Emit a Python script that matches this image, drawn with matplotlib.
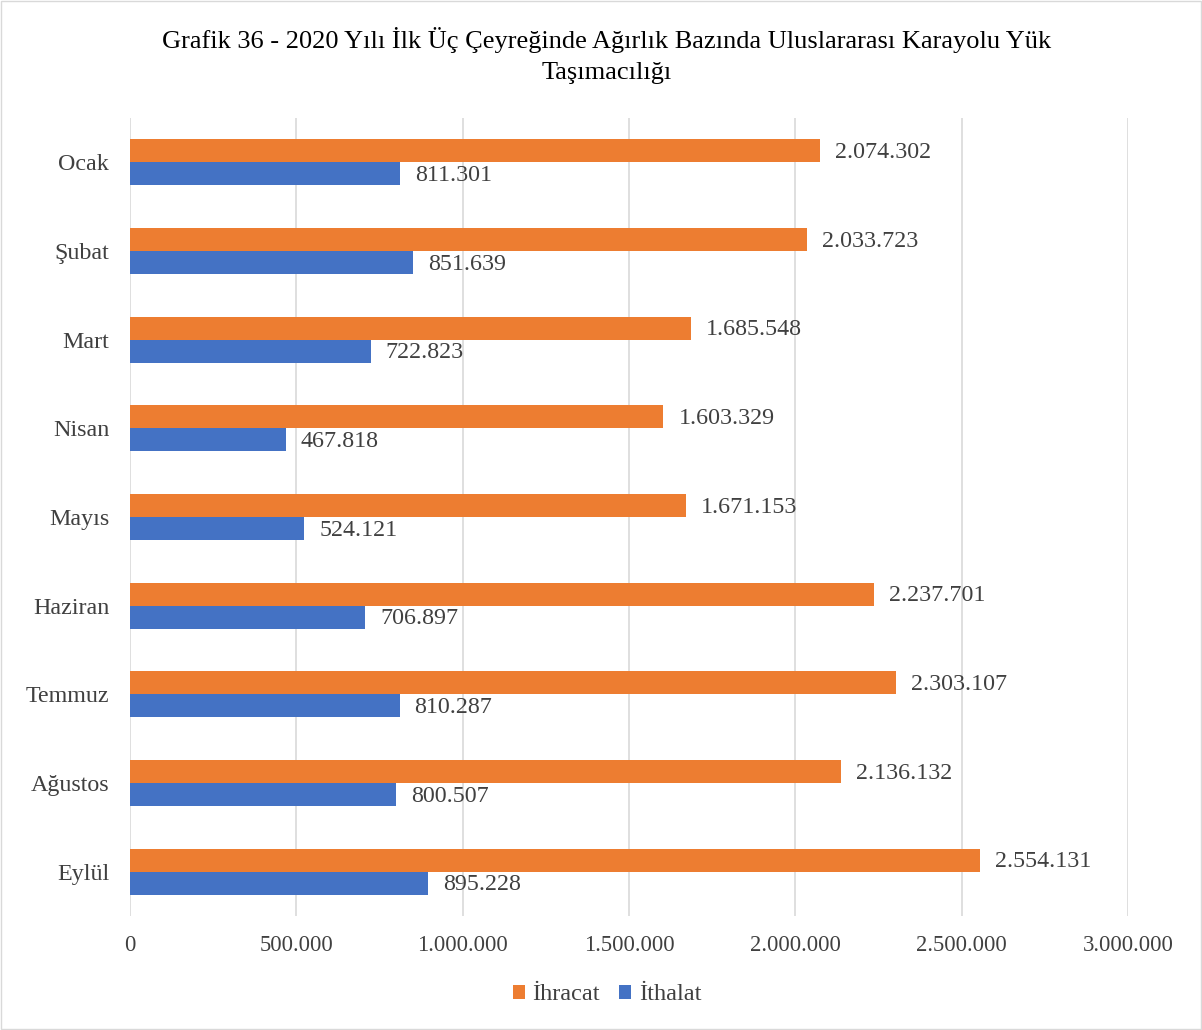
import matplotlib
matplotlib.use('Agg')
import matplotlib.pyplot as plt
import matplotlib.ticker as mticker
from matplotlib.patches import Rectangle
import numpy as np

ORANGE = '#ED7D31'
BLUE = '#4472C4'
TXT = '#404040'
GRID = '#D9D9D9'
plt.rcParams['font.family'] = ['Liberation Serif', 'DejaVu Serif']

months = ['Ocak', 'Şubat', 'Mart', 'Nisan', 'Mayıs', 'Haziran', 'Temmuz', 'Ağustos', 'Eylül']
ihracat = [2074302, 2033723, 1685548, 1603329, 1671153, 2237701, 2303107, 2136132, 2554131]
ithalat = [811301, 851639, 722823, 467818, 524121, 706897, 810287, 800507, 895228]


def tr_fmt(v):
    return f'{int(v):,}'.replace(',', '.')


fig = plt.figure(figsize=(12.02, 10.30), dpi=100)
ax = fig.add_axes([0.1082, 0.1107, 0.8303, 0.7748])

y = np.arange(len(months))
h = 0.26
b1 = ax.barh(y - h / 2, ihracat, h, color=ORANGE, label='İhracat', zorder=3)
b2 = ax.barh(y + h / 2, ithalat, h, color=BLUE, label='İthalat', zorder=3)

for bars in (b1, b2):
    for bar in bars:
        ax.text(bar.get_width() + 45000, bar.get_y() + bar.get_height() / 2 + 0.02, tr_fmt(bar.get_width()),
                va='center', ha='left', fontsize=17.3, color=TXT)

ax.set_xlim(0, 3000000)
ax.set_ylim(len(months) - 0.5, -0.5)
ax.set_yticks(y)
ax.set_yticklabels(months, fontsize=17.3, color=TXT)
ax.xaxis.set_major_locator(mticker.MultipleLocator(500000))
ax.xaxis.set_major_formatter(mticker.FuncFormatter(lambda v, p: tr_fmt(v)))
ax.tick_params(axis='x', labelsize=16.3, labelcolor=TXT, length=0, pad=14)
ax.tick_params(axis='y', length=0, pad=15)
ax.grid(axis='x', color=GRID, linewidth=1.2, zorder=0)
for s in ('top', 'right', 'left', 'bottom'):
    ax.spines[s].set_visible(False)

fig.text(0.505, 0.961, 'Grafik 36 - 2020 Yılı İlk Üç Çeyreğinde Ağırlık Bazında Uluslararası Karayolu Yük',
         ha='center', va='center', fontsize=19, color='black')
fig.text(0.505, 0.929, 'Taşımacılığı', ha='center', va='center', fontsize=19, color='black')

fig.legend(loc='center', bbox_to_anchor=(0.505, 0.034), ncol=2, frameon=False, fontsize=17.5,
           handlelength=0.5, handleheight=0.5, handletextpad=0.3, columnspacing=0.8,
           labelcolor=TXT)

fig.patches.append(Rectangle((0.001, 0.001), 0.998, 0.998, transform=fig.transFigure,
                             fill=False, edgecolor='#D9D9D9', linewidth=1))

fig.savefig('out.png', dpi=100)
plt.close()
